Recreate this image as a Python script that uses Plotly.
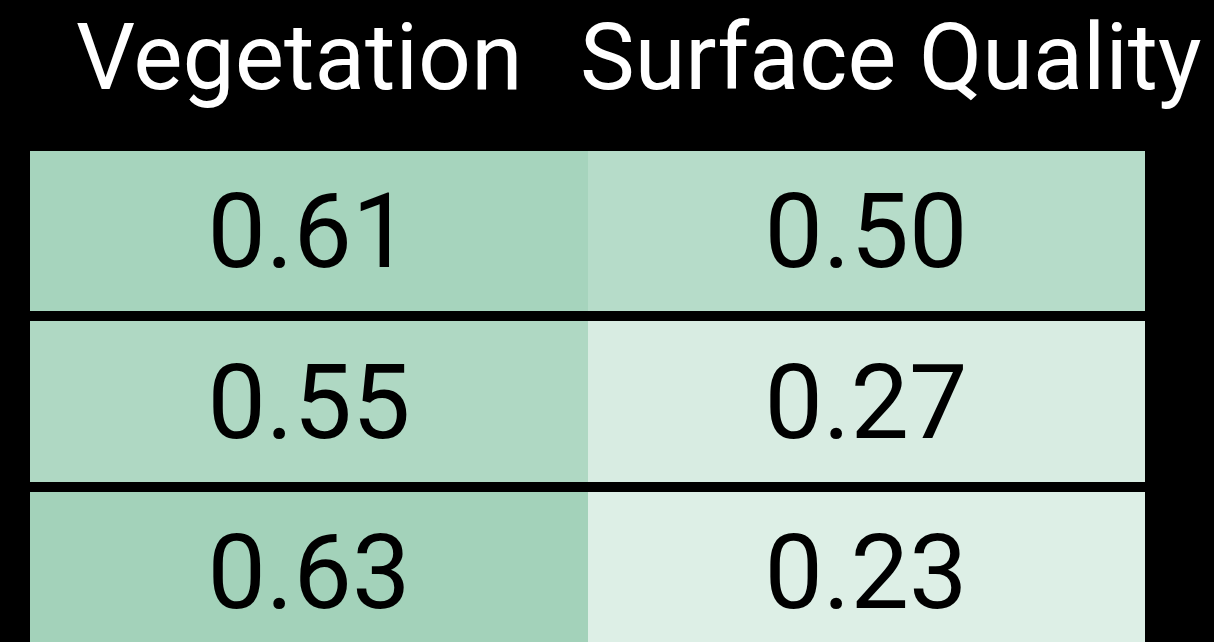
import plotly.graph_objects as go

columns = ["Vegetation", "Surface Quality"]
rows = ["Row 1", "Row 2", "Row 3"]
vegetation = [0.61, 0.55, 0.63]
surface_quality = [0.50, 0.27, 0.23]

z = [[v, s] for v, s in zip(vegetation, surface_quality)]

fig = go.Figure(
    go.Heatmap(
        z=z,
        x=columns,
        y=rows,
        colorscale=[[0, "#ffffff"], [1, "#6db892"]],
        zmin=0,
        zmax=1,
        showscale=False,
        xgap=0,
        ygap=10,
        texttemplate="%{z:.2f}",
        textfont=dict(family="Roboto", size=104, color="black"),
        hoverinfo="skip",
    )
)

header_x = [-0.016, 1.043]
header_sizes = [93, 92]
for name, xpos, fs in zip(columns, header_x, header_sizes):
    fig.add_annotation(
        x=xpos, xref="x", y=1.178, yref="paper",
        text=name, showarrow=False, xanchor="center", yanchor="middle",
        font=dict(family="Roboto", size=fs, color="white"),
    )

fig.update_xaxes(visible=False, range=[-0.5, 1.5])
fig.update_yaxes(visible=False, range=[2.41, -0.5])
fig.update_layout(
    width=1214, height=642,
    margin=dict(l=30, r=69, t=146, b=0, pad=0),
    paper_bgcolor="black", plot_bgcolor="black",
)

fig.write_html(
    "out.html",
    config={"displayModeBar": False},
    post_script="document.body.style.margin='0';document.body.style.background='black';document.body.style.overflow='hidden';",
)
